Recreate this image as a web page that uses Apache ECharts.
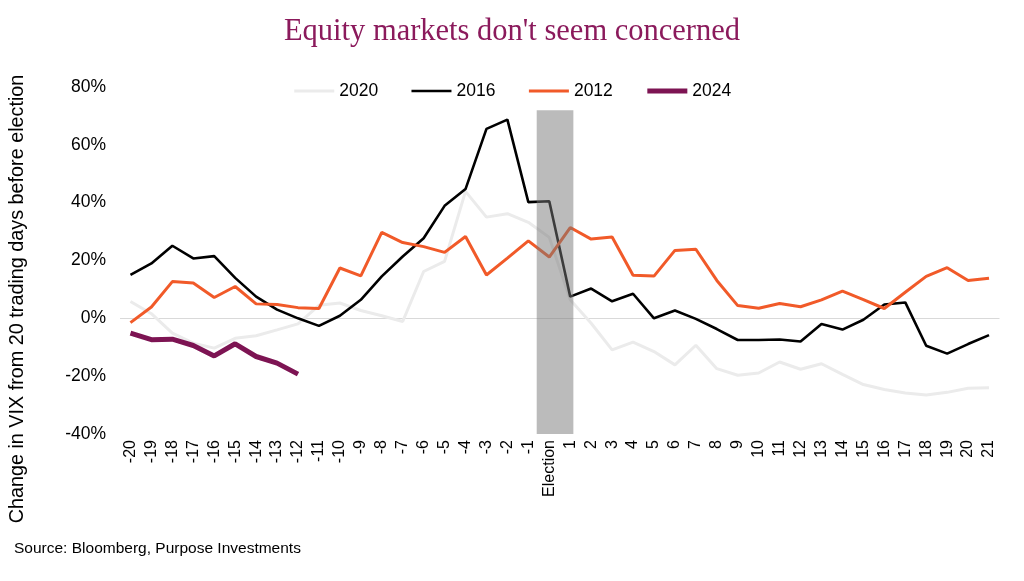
<!DOCTYPE html>
<html>
<head>
<meta charset="utf-8">
<script src="https://cdn.jsdelivr.net/npm/echarts@6/dist/echarts.min.js"></script>
<style>
html,body{margin:0;padding:0;background:#fff;}
#chart{width:1024px;height:581px;}
</style>
</head>
<body>
<div id="chart"></div>
<script>
// ---- Data ----
const categories = ['-20','-19','-18','-17','-16','-15','-14','-13','-12','-11','-10','-9','-8','-7','-6','-5','-4','-3','-2','-1','Election','1','2','3','4','5','6','7','8','9','10','11','12','13','14','15','16','17','18','19','20','21'];
const s2020 = [5.8,1.6,-5.1,-8.6,-10.3,-6.9,-6.0,-4.0,-1.9,4.5,5.3,2.7,0.9,-1.1,16.2,19.7,43.9,35.0,36.2,33.2,28.0,6.4,-1.7,-10.9,-8.2,-11.5,-16.1,-9.3,-17.4,-19.7,-18.9,-15.1,-17.6,-15.7,-19.4,-22.9,-24.6,-25.8,-26.5,-25.6,-24.2,-24.0];
const s2016 = [15,19,25.1,20.7,21.5,14,7.5,3,0,-2.6,0.9,6.4,14.5,21.4,27.7,38.9,44.7,65.5,68.7,40.2,40.5,7.5,10.3,5.9,8.5,0,2.7,-0.2,-3.7,-7.5,-7.5,-7.3,-8,-2,-3.9,-0.5,4.8,5.5,-9.5,-12.2,-8.9,-5.8];
const s2012 = [-1.5,3.9,12.7,12.2,7.2,11,5,4.8,3.7,3.4,17.4,14.7,29.7,26.2,24.8,22.8,28.3,15,20.8,26.8,21.2,31.4,27.4,28.1,14.9,14.6,23.5,23.9,13.1,4.4,3.5,5.1,4,6.4,9.4,6.5,3.4,9,14.5,17.5,13.1,13.9];
const s2024 = [-5.1,-7.4,-7.2,-9.4,-13,-8.8,-13.2,-15.5,-19.3];
const legendNames = ['2020','2016','2012','2024'];
// election shading band: [x from, x to] in category-slot units, [y from, y to] in %
const electionBand = [[19.9, 21.65, -40, 72]];
const yTicks = {min:-40, max:80, interval:20};

const colors = {'2020':'#ebebeb','2016':'#000000','2012':'#f15a29','2024':'#7d1453'};
const widths = {'2020':3,'2016':2.6,'2012':3,'2024':5};

const chart = echarts.init(document.getElementById('chart'), null, {renderer:'canvas'});
const font = 'Liberation Sans, Arial, sans-serif';

chart.setOption({
  animation:false,
  backgroundColor:'#ffffff',
  title:{
    text:"Equity markets don't seem concerned",
    left:'center', top:11,
    textStyle:{fontFamily:'Liberation Serif, DejaVu Serif, serif', fontSize:30.5, fontWeight:'normal', color:'#8b1a5c'}
  },
  legend:{
    top:77, left:'center',
    itemWidth:40, itemHeight:10, itemGap:32,
    itemStyle:{opacity:0},
    textStyle:{fontFamily:font, fontSize:17.5, color:'#000'},
    data:legendNames.map(n => ({name:n, lineStyle:{width:widths[n], color:colors[n]}}))
  },
  graphic:[
    {type:'text', x:18, y:299, rotation:Math.PI/2,
     style:{text:'Change in VIX from 20 trading days before election', fontFamily:font, fontSize:19.8, fill:'#000', textAlign:'center', textVerticalAlign:'middle'}},
    {type:'text', left:14, top:541,
     style:{text:'Source: Bloomberg, Purpose Investments', fontFamily:font, fontSize:15.5, fill:'#000'}}
  ],
  grid:{left:120, right:24.5, top:87, bottom:147},
  xAxis:[
    {type:'category', data:categories, boundaryGap:true,
     axisLine:{show:false}, axisTick:{show:false},
     axisLabel:{rotate:90, interval:0, margin:6, fontFamily:font, fontSize:16, color:'#000'}},
    {type:'value', min:0, max:42, show:false}
  ],
  yAxis:{
    type:'value', min:yTicks.min, max:yTicks.max, interval:yTicks.interval,
    axisLine:{show:false}, axisTick:{show:false}, splitLine:{show:false},
    axisLabel:{formatter:'{value}%', margin:14, fontFamily:font, fontSize:17.5, color:'#000'}
  },
  series:[
    {name:'2020', type:'line', data:s2020, symbol:'none', z:2,
     lineStyle:{color:colors['2020'], width:widths['2020']}, itemStyle:{color:colors['2020']},
     markLine:{silent:true, symbol:'none', label:{show:false},
       lineStyle:{color:'#d9d9d9', width:1.2, type:'solid'}, data:[{yAxis:0}], z:1}},
    {name:'2016', type:'line', data:s2016, symbol:'none', z:3,
     lineStyle:{color:colors['2016'], width:widths['2016']}, itemStyle:{color:colors['2016']}},
    {name:'2012', type:'line', data:s2012, symbol:'none', z:4,
     lineStyle:{color:colors['2012'], width:widths['2012']}, itemStyle:{color:colors['2012']}},
    {name:'2024', type:'line', data:s2024, symbol:'none', z:5,
     lineStyle:{color:colors['2024'], width:widths['2024']}, itemStyle:{color:colors['2024']}},
    {name:'Election', type:'custom', xAxisIndex:1, yAxisIndex:0, z:10, silent:true,
     data:electionBand,
     renderItem:function(params, api){
       const p1 = api.coord([api.value(0), api.value(3)]);
       const p2 = api.coord([api.value(1), api.value(2)]);
       return {type:'rect', shape:{x:p1[0], y:p1[1], width:p2[0]-p1[0], height:p2[1]-p1[1]},
               style:{fill:'rgba(120,120,120,0.5)'}};
     }}
  ]
});
</script>
</body>
</html>
